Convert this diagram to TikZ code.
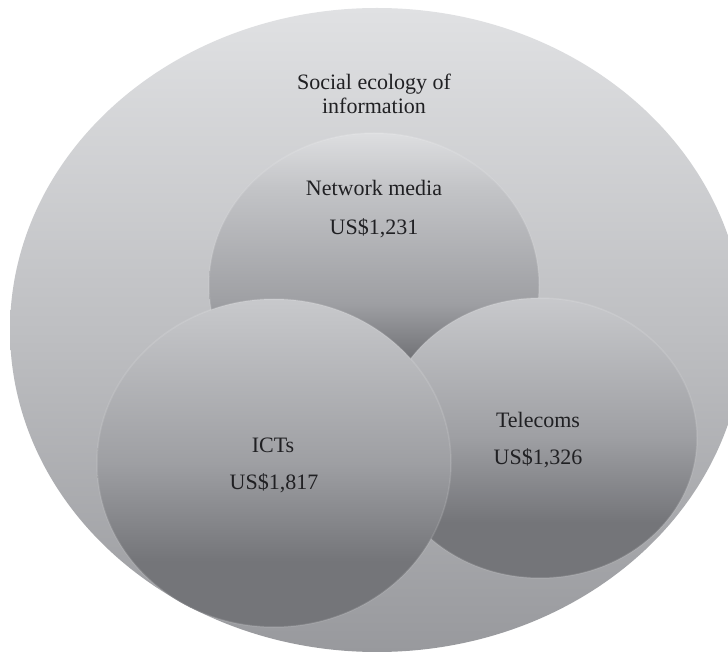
\documentclass[tikz,border=0pt]{standalone}
\usepackage{fontspec}
\setmainfont{Liberation Serif}
\usepackage{tikz}

\definecolor{labelgray}{RGB}{32,32,35}
\definecolor{outerlight}{RGB}{224,225,227}
\definecolor{outermid}{RGB}{190,191,194}
\definecolor{outerdark}{RGB}{152,153,157}
\definecolor{medialight}{RGB}{221,222,224}
\definecolor{mediamid}{RGB}{195,196,199}
\definecolor{mediadark}{RGB}{114,115,119}
\definecolor{disclight}{RGB}{200,201,204}
\definecolor{discmid}{RGB}{158,159,163}
\definecolor{discdark}{RGB}{116,117,121}

\pgfdeclareverticalshading{outershade}{100bp}{color(0bp)=(outerdark); color(25bp)=(outerdark); color(50bp)=(outermid); color(75bp)=(outerlight); color(100bp)=(outerlight)}
\pgfdeclareverticalshading{mediashade}{100bp}{color(0bp)=(mediadark); color(38bp)=(mediadark); color(47bp)=(discmid); color(66bp)=(mediamid); color(75bp)=(medialight); color(100bp)=(medialight)}
\pgfdeclareverticalshading{discshade}{100bp}{color(0bp)=(discdark); color(35bp)=(discdark); color(50bp)=(discmid); color(75bp)=(disclight); color(100bp)=(disclight)}

\begin{document}
\begin{tikzpicture}[x=1pt,y=1pt,every node/.style={font=\fontsize{22}{24}\selectfont,text=labelgray,align=center},rim/.style={draw=white,draw opacity=0.12,line width=1.5pt}]
            \useasboundingbox (0,0) rectangle (728,651);
            \clip (0,0) rectangle (728,651);
            \fill[white] (0,0) rectangle (728,651);

            \shade[shading=outershade] (377,321) ellipse [x radius=367, y radius=322];
            \shade[shading=mediashade,rim] (374,366) ellipse [x radius=165, y radius=152];
            \shade[shading=discshade,rim] (540,213) ellipse [x radius=157, y radius=140];
            \shade[shading=discshade,rim] (274,188) ellipse [x radius=177, y radius=164];

            \node (eco) at (374,557) {Social ecology of\\information};
            \node (media) at (374,463) {Network media};
            \node (mediaval) at (374,423) {US\$1,231};
            \node (ict) at (273,206) {ICTs};
            \node (ictval) at (274,168) {US\$1,817};
            \node (tel) at (538,231) {Telecoms};
            \node (telval) at (538,193) {US\$1,326};
        \end{tikzpicture}
\end{document}
